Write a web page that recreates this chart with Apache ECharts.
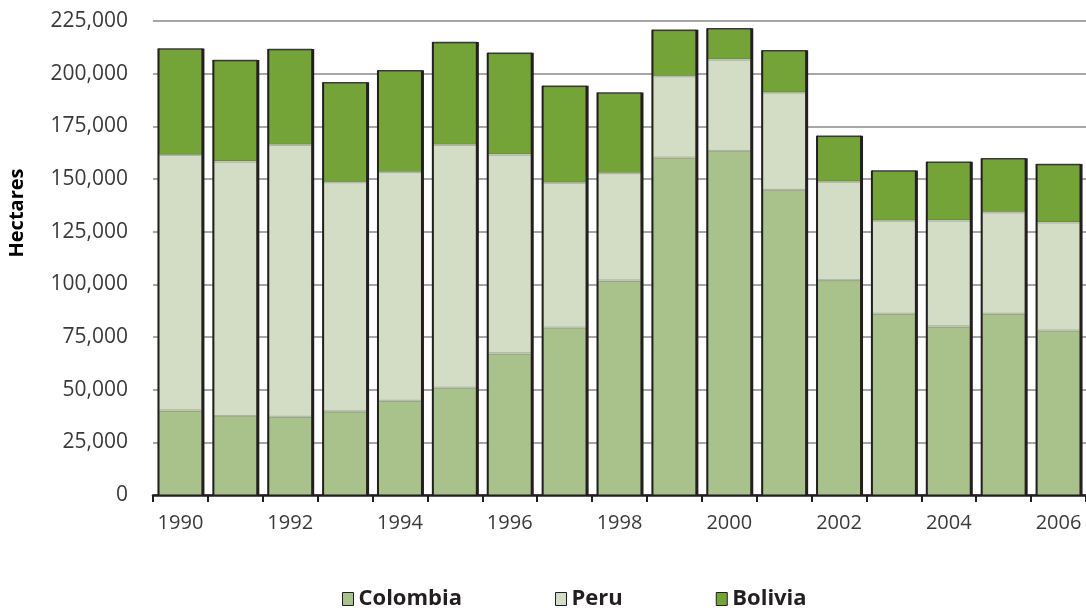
<!DOCTYPE html>
<html>
<head>
<meta charset="utf-8">
<script src="https://cdn.jsdelivr.net/npm/echarts@6/dist/echarts.min.js"></script>
<style>
html,body{margin:0;padding:0;background:#fff;}
#chart{width:1086px;height:608px;}
</style>
</head>
<body>
<div id="chart"></div>
<script>
const years = ['1990','1991','1992','1993','1994','1995','1996','1997','1998','1999','2000','2001','2002','2003','2004','2005','2006'];
const colombia = [40100, 37500, 37100, 39700, 44700, 50900, 67200, 79400, 101800, 160100, 163300, 144800, 102000, 86000, 80000, 86000, 78000];
const peru     = [121300, 120800, 129100, 108800, 108600, 115300, 94400, 68800, 51000, 38700, 43400, 46200, 46700, 44200, 50300, 48200, 51400];
const bolivia  = [50300, 47900, 45300, 47200, 48100, 48600, 48100, 45800, 38000, 21800, 14600, 19900, 21600, 23600, 27700, 25400, 27500];
const yTicks = [0, 25000, 50000, 75000, 100000, 125000, 150000, 175000, 200000, 225000];

const totals = years.map((y, i) => colombia[i] + peru[i] + bolivia[i]);
const BAR_W = 44;
const FONT = '"Open Sans", "DejaVu Sans", sans-serif';

const chart = echarts.init(document.getElementById('chart'), null, {renderer: 'canvas'});
const segBorder = {borderColor: 'rgba(60,70,40,0.35)', borderWidth: 1};

chart.setOption({
  animation: false,
  backgroundColor: '#ffffff',
  grid: {left: 153, right: 0, top: 21, bottom: 113, containLabel: false},
  legend: {
    left: 337, top: 583,
    itemWidth: 11, itemHeight: 13, itemGap: 93,
    icon: 'rect',
    itemStyle: {borderColor: '#231f20', borderWidth: 1},
    textStyle: {fontFamily: FONT, fontSize: 22, fontWeight: 'bold', color: '#231f20'},
    data: ['Colombia', 'Peru', 'Bolivia']
  },
  graphic: [{
    type: 'text', x: 17, y: 213, rotation: Math.PI / 2,
    style: {text: 'Hectares', fontFamily: FONT, fontSize: 20, fontWeight: 'bold', fill: '#000', textAlign: 'center', textVerticalAlign: 'middle'}
  }],
  xAxis: {
    type: 'category', data: years, boundaryGap: true,
    axisLine: {show: true, lineStyle: {color: '#231f20', width: 2.5}},
    axisTick: {show: true, interval: 0, length: 7, lineStyle: {color: '#231f20', width: 2}},
    axisLabel: {interval: 1, margin: 18, fontFamily: FONT, fontSize: 20, color: '#3a3a3a'},
    splitLine: {show: false}
  },
  yAxis: {
    type: 'value', min: 0, max: 225000, interval: 25000,
    axisLine: {show: false},
    axisTick: {show: false},
    axisLabel: {margin: 25, fontFamily: FONT, fontSize: 21, color: '#3a3a3a',
      formatter: v => yTicks.indexOf(v) >= 0 ? v.toLocaleString('en-US') : ''},
    splitLine: {show: true, lineStyle: {color: '#8a8a8a', width: 1.5}}
  },
  series: [
    {name: 'Colombia', type: 'bar', stack: 'total', barWidth: BAR_W, data: colombia,
      itemStyle: Object.assign({color: '#a9c28b'}, segBorder), z: 2},
    {name: 'Peru', type: 'bar', stack: 'total', barWidth: BAR_W, data: peru,
      itemStyle: Object.assign({color: '#d3dcc5'}, segBorder), z: 2},
    {name: 'Bolivia', type: 'bar', stack: 'total', barWidth: BAR_W, data: bolivia,
      itemStyle: Object.assign({color: '#74a338'}, segBorder), z: 2},
    {
      name: 'frame', type: 'custom', z: 5, silent: true,
      data: totals.map((t, i) => [i, t]),
      renderItem: function (params, api) {
        const i = api.value(0), t = api.value(1);
        const p0 = api.coord([i, 0]);
        const p1 = api.coord([i, t]);
        const half = BAR_W / 2;
        const xl = p0[0] - half, xr = p0[0] + half;
        return {
          type: 'group',
          children: [
            {type: 'line', shape: {x1: xl, y1: p1[1], x2: xr, y2: p1[1]},
              style: {stroke: '#3a3a3a', lineWidth: 1.5}},
            {type: 'line', shape: {x1: xl, y1: p1[1] - 0.5, x2: xl, y2: p0[1]},
              style: {stroke: '#231f20', lineWidth: 2}},
            {type: 'line', shape: {x1: xr + 0.5, y1: p1[1] - 0.5, x2: xr + 0.5, y2: p0[1]},
              style: {stroke: '#231f20', lineWidth: 3}}
          ]
        };
      }
    }
  ]
});
</script>
</body>
</html>
